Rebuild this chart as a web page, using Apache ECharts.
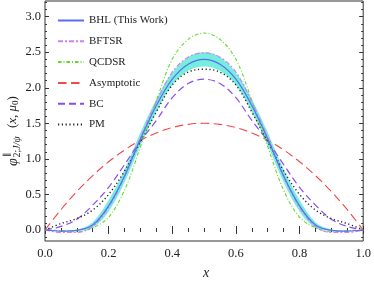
<!DOCTYPE html>
<html><head><meta charset="utf-8">
<script src="https://cdn.jsdelivr.net/npm/echarts@6/dist/echarts.min.js"></script>
<style>html,body{margin:0;padding:0;background:#fff}#c{width:374px;height:284px}</style>
</head><body><div id="c"></div>
<script>
const xs = [0,0.05,0.1,0.15,0.2,0.25,0.3,0.35,0.4,0.45,0.5,0.55,0.6,0.65,0.7,0.75,0.8,0.85,0.9,0.95,1];
const bhl   = [0,-0.015,-0.005,0.07,0.34,0.76,1.28,1.75,2.12,2.33,2.40,2.33,2.12,1.75,1.28,0.76,0.34,0.07,-0.005,-0.015,0];
const bandLo= [0,-0.02,-0.015,0.03,0.26,0.67,1.19,1.66,2.04,2.24,2.30,2.24,2.04,1.66,1.19,0.67,0.26,0.03,-0.015,-0.02,0];
const bandHi= [0,-0.01,0.005,0.11,0.42,0.85,1.37,1.84,2.21,2.43,2.50,2.43,2.21,1.84,1.37,0.85,0.42,0.11,0.005,-0.01,0];
const bftsr = [0,-0.035,-0.035,0.05,0.32,0.75,1.30,1.80,2.22,2.43,2.49,2.43,2.22,1.80,1.30,0.75,0.32,0.05,-0.035,-0.035,0];
const qcdsr = [0,-0.01,-0.025,0.03,0.18,0.56,1.17,1.82,2.40,2.68,2.77,2.68,2.40,1.82,1.17,0.56,0.18,0.03,-0.025,-0.01,0];
const asym  = [0,0.285,0.54,0.765,0.96,1.125,1.26,1.365,1.44,1.485,1.5,1.485,1.44,1.365,1.26,1.125,0.96,0.765,0.54,0.285,0];
const bc    = [0,0.05,0.15,0.35,0.60,0.92,1.25,1.54,1.86,2.06,2.12,2.06,1.86,1.54,1.25,0.92,0.60,0.35,0.15,0.05,0];
const pm    = [0,0.09,0.16,0.28,0.50,0.83,1.24,1.66,2.04,2.22,2.26,2.22,2.04,1.66,1.24,0.83,0.50,0.28,0.16,0.09,0];
const names = ['BHL (This Work)','BFTSR','QCDSR','Asymptotic','BC','PM'];
const yMajor = [0,0.5,1,1.5,2,2.5,3];
const yMinor = [-0.1,0.1,0.2,0.3,0.4,0.6,0.7,0.8,0.9,1.1,1.2,1.3,1.4,1.6,1.7,1.8,1.9,2.1,2.2,2.3,2.4,2.6,2.7,2.8,2.9,3.1,3.2];

const FONT = '"Liberation Serif", "DejaVu Serif", serif';
const pairs = arr => xs.map((x,i)=>[x,arr[i]]);
const ink = '#333';

function line(name, arr, color, type, width, z, cap){
  return {name, type:'line', data:pairs(arr), symbol:'none', smooth:0.35, z:z,
    lineStyle:{color, width, type, cap:cap||'butt'}, itemStyle:{color}};
}
const yMin=-0.155, yMax=3.22;
function yAx(pos, ticks, len, labels){
  return {type:'value', min:yMin, max:yMax, position:pos, splitLine:{show:false},
    axisLine:{show:false},
    axisTick:{show:true, inside:true, length:len, customValues:ticks, lineStyle:{color:ink, width:1}},
    axisLabel: labels ? {show:true, customValues:ticks, formatter:v=>v.toFixed(1), fontFamily:FONT, fontSize:12.5, color:'#222', margin:4}
                      : {show:false}};
}
function xAx(pos, labels){
  return {type:'value', min:0, max:1, interval:0.2, position:pos, splitLine:{show:false},
    axisLine:{show:false},
    axisTick:{show:true, inside:true, length:4, lineStyle:{color:ink}},
    minorTick:{show:true, splitNumber:4, length:2, lineStyle:{color:ink}},
    axisLabel: labels ? {show:true, formatter:v=>v.toFixed(1), fontFamily:FONT, fontSize:12.5, color:'#222', margin:6} : {show:false}};
}

const chart = echarts.init(document.getElementById('c'), null, {renderer:'canvas'});
chart.setOption({
  animation:false,
  backgroundColor:'#fff',
  grid:{left:45, right:8, top:1, bottom:43, show:true, borderColor:ink, borderWidth:1, backgroundColor:'transparent'},
  xAxis:[xAx('bottom',true), xAx('top',false)],
  yAxis:[yAx('left',yMajor,4,true), yAx('left',yMinor,2,false), yAx('right',yMajor,4,false), yAx('right',yMinor,2,false)],
  legend:{orient:'vertical', left:57, top:15, padding:0, itemWidth:26, itemHeight:10, itemGap:9.8,
    itemStyle:{opacity:0},
    textStyle:{fontFamily:FONT, fontSize:11, color:'#222'}, data:names},
  series:[
    {name:'band', type:'custom', coordinateSystem:'cartesian2d', data:[[0.5,2.4]], z:1, silent:true,
      renderItem:(params, api)=>{
        const up = xs.map((x,i)=>api.coord([x,bandHi[i]]));
        const lo = xs.map((x,i)=>api.coord([x,bandLo[i]])).reverse();
        return {type:'polygon', shape:{points:up.concat(lo), smooth:0.35},
          style:{fill:'rgba(64,232,208,0.72)', stroke:null}};
      }},
    line('Asymptotic', asym, '#f04848', [8.5,4.5], 1.1, 3),
    line('BC', bc, '#8a4cf0', [7,4], 1.2, 3),
    line('PM', pm, '#222222', [1.2,2.6], 1.4, 3),
    line('QCDSR', qcdsr, '#5fdc2a', [3.5,2,1,2], 1.1, 3),
    line('BFTSR', bftsr, '#cf80f2', [5,2,2,2], 1.2, 4),
    line('BHL (This Work)', bhl, '#5b6cf2', 'solid', 1.2, 5)
  ],
  graphic:[
    {type:'group', x:13, y:166, rotation:Math.PI/2, children:[
      {type:'text', x:0, y:0, style:{text:'φ', font:'italic 14px '+FONT, fill:'#222', verticalAlign:'middle', align:'left'}},
      {type:'text', x:9, y:-5, style:{text:'∥', font:'9px '+FONT, fill:'#222', verticalAlign:'middle', align:'left'}},
      {type:'text', x:8.5, y:4.5, style:{text:'{n|2;}{i|J/ψ}', fill:'#222', verticalAlign:'middle', align:'left',
        rich:{n:{fontSize:10, fontFamily:FONT}, i:{fontSize:10, fontFamily:FONT, fontStyle:'italic'}}}},
      {type:'text', x:38, y:0, style:{text:'{n|(}{i|x}{n|, }{i|μ}{s|0}{n|)}', fill:'#222', verticalAlign:'middle', align:'left',
        rich:{n:{fontSize:13, fontFamily:FONT}, i:{fontSize:13, fontFamily:FONT, fontStyle:'italic'},
              s:{fontSize:9, fontFamily:FONT, padding:[6,0,0,0]}}}}
    ]},
    {type:'text', x:206, y:273, style:{text:'x', font:'italic 14px '+FONT, fill:'#222', align:'center', verticalAlign:'middle'}}
  ]
});
</script></body></html>
